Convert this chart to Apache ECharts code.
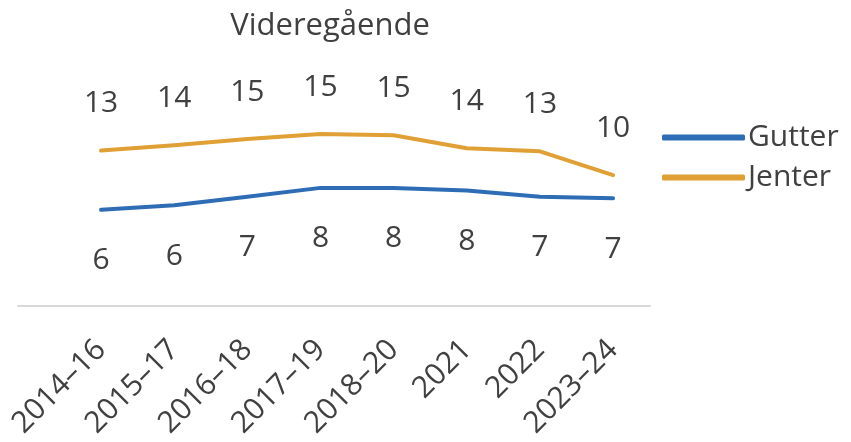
<!DOCTYPE html>
<html>
<head>
<meta charset="utf-8">
<script src="https://cdn.jsdelivr.net/npm/echarts@6/dist/echarts.min.js"></script>
<style>
  html, body { margin: 0; padding: 0; background: #fff; }
  #chart { width: 851px; height: 442px; }
</style>
</head>
<body>
<div id="chart"></div>
<script>
// values (labels show rounded values)
const periods = ['2014–16', '2015–17', '2016–18', '2017–19', '2018–20', '2021', '2022', '2023–24']
const gutter = [5.6, 6.2, 7.3, 8.45, 8.45, 8.1, 7.3, 7.1]
const jenter = [13.3, 14.0, 14.8, 15.45, 15.3, 13.6, 13.2, 10.1]

const textColor = '#404040'
const font = 'Open Sans'

const chart = echarts.init(document.getElementById('chart'))

function lineSeries(name, data, color, pos, dist) {
  return {
    name: name,
    type: 'line',
    data: data,
    xAxisIndex: 0,
    yAxisIndex: 0,
    symbol: 'circle',
    symbolSize: 2,
    itemStyle: { color: color },
    lineStyle: { color: color, width: 4, cap: 'round', join: 'round' },
    label: {
      show: true,
      position: pos,
      distance: dist,
      color: textColor,
      fontFamily: font,
      fontSize: 30,
      formatter: p => Math.round(p.value)
    },
    emphasis: { disabled: true }
  }
}

const option = {
  animation: false,
  title: {
    text: 'Videregående',
    left: 325,
    textAlign: 'center',
    top: 6,
    textStyle: { color: textColor, fontFamily: font, fontSize: 31, fontWeight: 'normal' }
  },
  legend: {
    orient: 'vertical',
    left: 662,
    top: 122,
    padding: 0,
    itemWidth: 83,
    itemHeight: 6,
    itemGap: 9,
    icon: 'roundRect',
    data: ['Gutter', 'Jenter'],
    textStyle: { color: textColor, fontFamily: font, fontSize: 30, lineHeight: 31, padding: [0, 0, 0, -2] }
  },
  grid: [
    { left: 64.5, right: 201.4, top: 99, bottom: 136 },
    { left: 18, right: 201, top: 99, bottom: 136 }
  ],
  xAxis: [
    {
      type: 'category',
      gridIndex: 0,
      data: periods,
      boundaryGap: true,
      axisLine: { show: false },
      axisTick: { show: false },
      axisLabel: {
        rotate: 45,
        margin: 39,
        interval: 0,
        color: textColor,
        fontFamily: font,
        fontSize: 30
      }
    },
    {
      type: 'value',
      gridIndex: 1,
      min: 0,
      max: 1,
      axisLine: { show: true, onZero: false, lineStyle: { color: '#d9d9d9', width: 2 } },
      axisTick: { show: false },
      axisLabel: { show: false },
      splitLine: { show: false }
    }
  ],
  yAxis: [
    { type: 'value', gridIndex: 0, min: -6.9, max: 20, show: false, splitLine: { show: false } },
    { type: 'value', gridIndex: 1, min: 0, max: 1, show: false, splitLine: { show: false } }
  ],
  series: [
    lineSeries('Gutter', gutter, '#2e6db5', 'bottom', 35),
    lineSeries('Jenter', jenter, '#e0a035', 'top', 31)
  ]
}

chart.setOption(option)
</script>
</body>
</html>
